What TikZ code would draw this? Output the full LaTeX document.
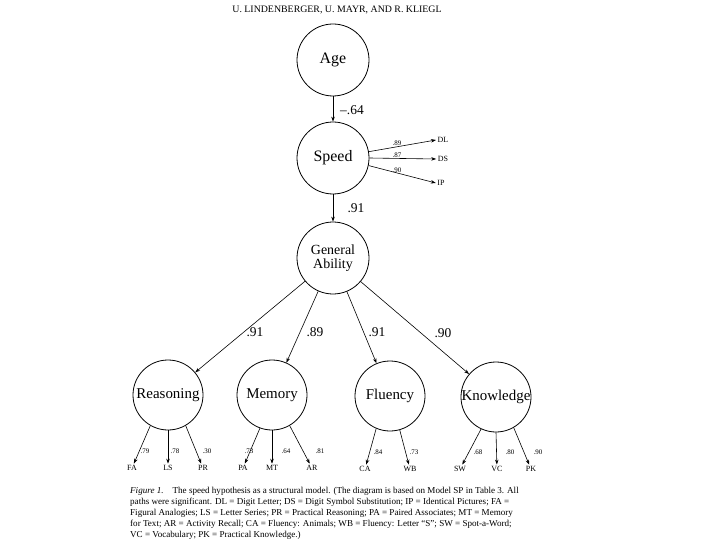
\documentclass[tikz,border=0pt]{standalone}
\usepackage{fontspec}
\setmainfont{Liberation Serif}
\usetikzlibrary{arrows.meta}
\begin{document}
\begin{tikzpicture}[x=1bp,y=-1bp,
  latent/.style={circle,draw,line width=0.8pt,minimum size=72bp,inner sep=0pt,font=\fontsize{16}{17}\selectfont},
  lower/.style={latent,minimum size=70bp,font=\fontsize{15}{16}\selectfont},
  arr/.style={-{Stealth[length=5bp,width=3.5bp]},line width=0.6pt},
  obs/.style={font=\fontsize{8}{9}\selectfont,inner sep=1.5bp},
  lab/.style={font=\fontsize{7}{8}\selectfont,inner sep=0pt},
  biglab/.style={font=\fontsize{13.5}{14}\selectfont,inner sep=0pt}]
\useasboundingbox (0,0) rectangle (720,540);
% header
\node[font=\fontsize{9.9}{10}\selectfont] (hdr) at (337,10) {U. LINDENBERGER, U. MAYR, AND R. KLIEGL};
% latent variables
\node[latent] (age) at (333,60) {Age};
\node[latent] (speed) at (333,158) {Speed};
\node[latent,align=center,font=\fontsize{14}{14}\selectfont] (ga) at (333,258) {General\\Ability};
\node[lower] (rea) at (168,395) {Reasoning};
\node[lower] (mem) at (272,395) {Memory};
\node[lower] (flu) at (390,396) {Fluency};
\node[lower] (kno) at (496,397) {Knowledge};
% structural paths
\draw[arr] (age) -- (speed);
\node[biglab] (l64) at (352,110) {–.64};
\draw[arr] (speed) -- (ga);
\node[biglab] (l91a) at (356,208) {.91};
\draw[arr] (ga) -- (rea);
\draw[arr] (ga) -- (mem);
\draw[arr] (ga) -- (flu);
\draw[arr] (ga) -- (kno);
\node[biglab] (l91b) at (255,332) {.91};
\node[biglab] (l89) at (315,332) {.89};
\node[biglab] (l91c) at (377,332) {.91};
\node[biglab] (l90) at (443,333) {.90};
% speed indicators
\node[obs] (dl) at (443,140) {DL};
\node[obs] (ds) at (443,159) {DS};
\node[obs] (ip) at (441,183) {IP};
\draw[arr] (speed.10) -- (dl.west);
\draw[arr] (speed.east) -- (ds.west);
\draw[arr] (speed.-12) -- (ip.west);
\node[lab] (s89) at (397,143) {.89};
\node[lab] (s87) at (397,155) {.87};
\node[lab] (s90) at (397,170) {.90};
% reasoning indicators
\node[obs] (fa) at (132,468) {FA};
\node[obs] (ls) at (168,468) {LS};
\node[obs] (pr) at (203,468) {PR};
\draw[arr] (rea.240) -- (fa);
\draw[arr] (rea.south) -- (ls);
\draw[arr] (rea.300) -- (pr);
\node[lab] (r79) at (145,451) {.79};
\node[lab] (r78) at (175,451) {.78};
\node[lab] (r30) at (207,451) {.30};
% memory indicators
\node[obs] (pa) at (243,468) {PA};
\node[obs] (mt) at (272,468) {MT};
\node[obs] (ar) at (312,468) {AR};
\draw[arr] (mem.250) -- (pa);
\draw[arr] (mem.south) -- (mt);
\draw[arr] (mem.300) -- (ar);
\node[lab] (m73) at (249,451) {.73};
\node[lab] (m64) at (286,451) {.64};
\node[lab] (m81) at (320,451) {.81};
% fluency indicators
\node[obs] (ca) at (365,469) {CA};
\node[obs] (wb) at (410,469) {WB};
\draw[arr] (flu.247) -- (ca);
\draw[arr] (flu.286) -- (wb);
\node[lab] (f84) at (378,452) {.84};
\node[lab] (f73) at (414,452) {.73};
% knowledge indicators
\node[obs] (sw) at (460,469) {SW};
\node[obs] (vc) at (497,469) {VC};
\node[obs] (pk) at (531,469) {PK};
\draw[arr] (kno.245) -- (sw);
\draw[arr] (kno.south) -- (vc);
\draw[arr] (kno.300) -- (pk);
\node[lab] (k68) at (478,452) {.68};
\node[lab] (k80) at (510,452) {.80};
\node[lab] (k90) at (538,452) {.90};
% caption
\node[anchor=north west,align=left,inner sep=0pt,font=\fontsize{9.1}{11}\selectfont] (cap) at (130,487)
{\textit{Figure 1.}\quad The speed hypothesis as a structural model. (The diagram is based on Model SP in Table 3. All\\
paths were significant. DL = Digit Letter; DS = Digit Symbol Substitution; IP = Identical Pictures; FA =\\
Figural Analogies; LS = Letter Series; PR = Practical Reasoning; PA = Paired Associates; MT = Memory\\
for Text; AR = Activity Recall; CA = Fluency: Animals; WB = Fluency: Letter ``S''; SW = Spot-a-Word;\\
VC = Vocabulary; PK = Practical Knowledge.)};
\end{tikzpicture}
\end{document}
